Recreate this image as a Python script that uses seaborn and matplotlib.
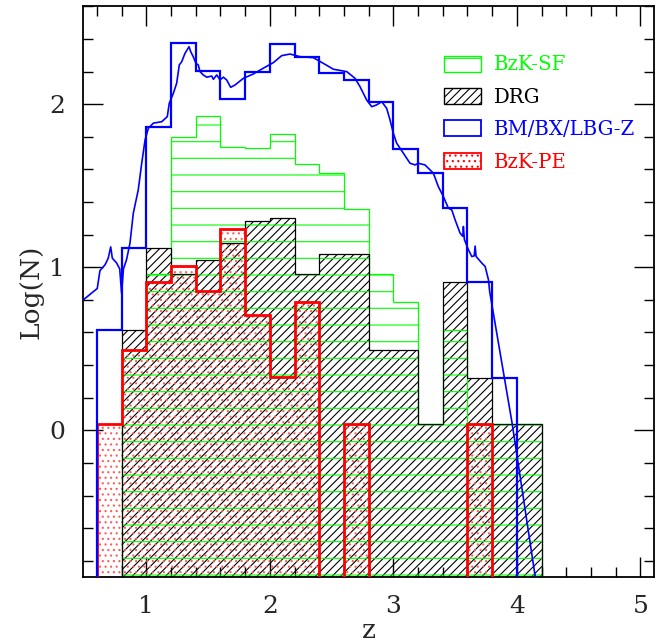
import numpy as np
import matplotlib
matplotlib.use('Agg')
import matplotlib.pyplot as plt
from matplotlib.patches import Patch
from matplotlib.ticker import MultipleLocator
import seaborn as sns
import pandas as pd

# ---------------- data ----------------
bin_edges = [0.6, 0.8, 1.0, 1.2, 1.4, 1.6, 1.8, 2.0, 2.2, 2.4,
             2.6, 2.8, 3.0, 3.2, 3.4, 3.6, 3.8, 4.0, 4.2]
nan = np.nan
bm_bx_lbg = [0.613, 1.118, 1.861, 2.374, 2.204, 2.031, 2.200, 2.371, 2.288,
             2.190, 2.149, 2.012, 1.724, 1.581, 1.363, 0.909, 0.323, nan]
drg = [nan, 0.613, 1.118, 0.960, 1.046, 1.148, 1.281, 1.301, 0.960,
       1.083, 1.083, 0.494, 0.494, 0.041, 0.909, 0.321, 0.041, 0.041]
bzk_sf = [nan, 0.494, 0.960, 1.801, 1.926, 1.740, 1.732, 1.816, 1.634,
          1.579, 1.360, 0.960, 0.784, 0.041, 0.617, 0.041, 0.041, 0.041]
bzk_pe = [0.041, 0.494, 0.909, 1.005, 0.856, 1.234, 0.709, 0.325, 0.784,
          nan, 0.041, nan, nan, nan, nan, 0.041, nan, nan]

curve_z = [0.49, 0.603, 0.625, 0.666, 0.692, 0.712, 0.725, 0.76, 0.785, 0.80,
           0.815, 0.84, 0.868, 0.895, 0.935, 0.963, 0.99, 1.017, 1.057, 1.125,
           1.17, 1.186, 1.219, 1.246, 1.267, 1.287, 1.313, 1.346, 1.36, 1.38,
           1.402, 1.421, 1.435, 1.461, 1.489, 1.53, 1.543, 1.57, 1.597, 1.624,
           1.651, 1.683, 1.718, 1.786, 1.867, 1.947, 2.028, 2.096, 2.163, 2.244,
           2.352, 2.433, 2.514, 2.623, 2.69, 2.73, 2.784, 2.825, 2.865, 2.906,
           2.946, 2.973, 3.0, 3.027, 3.081, 3.135, 3.176, 3.202, 3.256, 3.324,
           3.364, 3.405, 3.445, 3.473, 3.5, 3.54, 3.562, 3.567, 3.575, 3.608,
           3.635, 3.655, 3.662, 3.67, 3.716, 3.743, 3.77, 3.78, 3.96, 4.148]
curve_logn = [0.80, 0.87, 0.98, 1.015, 1.056, 1.125, 1.056, 1.026, 0.99, 0.84,
              0.99, 1.046, 1.148, 1.332, 1.475, 1.638, 1.781, 1.853, 1.884, 1.893,
              1.924, 2.006, 2.067, 2.129, 2.241, 2.261, 2.312, 2.353, 2.322, 2.292,
              2.251, 2.241, 2.20, 2.18, 2.166, 2.173, 2.153, 2.18, 2.149, 2.166,
              2.149, 2.104, 2.118, 2.159, 2.186, 2.221, 2.255, 2.298, 2.308, 2.292,
              2.286, 2.251, 2.215, 2.20, 2.159, 2.108, 2.026, 1.985, 1.996, 2.016,
              1.975, 1.904, 1.822, 1.761, 1.70, 1.638, 1.628, 1.638, 1.628, 1.577,
              1.495, 1.434, 1.363, 1.352, 1.291, 1.21, 1.19, 1.25, 1.17, 1.107,
              1.066, 1.07, 1.13, 1.066, 1.026, 1.005, 0.923, 0.85, 0.05, -0.895]

labels = ['BzK-SF', 'DRG', 'BM/BX/LBG-Z', 'BzK-PE']
GREEN, BLACK, BLUE, RED = '#00ff00', 'black', '#0000ff', '#ff0000'
DOTS = '#ff5a5a'

# ---------------- style ----------------
sns.set_style('ticks')
plt.rcParams['font.family'] = ['DejaVu Serif']
plt.rcParams['hatch.linewidth'] = 0.8

fig = plt.figure(figsize=(6.61, 6.44), dpi=100)
ax = fig.add_axes([0.126, 0.104, 0.8634, 0.886])

BASE = -2.0
edges = np.array(bin_edges)

# hatched fills
ax.stairs(np.array(drg), edges, baseline=BASE, fill=True, facecolor='none',
          edgecolor=BLACK, linewidth=0, hatch='////', zorder=1)
ax.stairs(np.array(bzk_pe), edges, baseline=BASE, fill=True, facecolor='none',
          edgecolor=DOTS, linewidth=0, hatch='...', zorder=2)
ax.stairs(np.array(bzk_sf), edges, baseline=BASE, fill=True, facecolor='none',
          edgecolor=GREEN, linewidth=0, hatch='-', zorder=3)

# outlines
ax.stairs(np.array(bzk_sf), edges, baseline=BASE, fill=False, color=GREEN,
          linewidth=0.9, zorder=4)
ax.stairs(np.array(drg), edges, baseline=BASE, fill=False, color=BLACK,
          linewidth=0.9, zorder=5)
ax.stairs(np.array(bzk_pe), edges, baseline=BASE, fill=False, color=RED,
          linewidth=2.0, zorder=6)
ax.stairs(np.array(bm_bx_lbg), edges, baseline=BASE, fill=False, color=BLUE,
          linewidth=1.6, zorder=7)

df_curve = pd.DataFrame({'z': curve_z, 'logN': curve_logn})
sns.lineplot(data=df_curve, x='z', y='logN', ax=ax, color=BLUE, linewidth=1.2,
             sort=False, estimator=None, zorder=8)

ax.set_xlim(0.49, 5.11)
ax.set_ylim(-0.9, 2.6)
ax.xaxis.set_major_locator(MultipleLocator(1))
ax.xaxis.set_minor_locator(MultipleLocator(0.2))
ax.yaxis.set_major_locator(MultipleLocator(1))
ax.yaxis.set_minor_locator(MultipleLocator(0.2))
ax.tick_params(which='both', direction='in', top=True, right=True,
               labelsize=18, pad=13, width=1.0, color='black')
ax.tick_params(which='major', length=14.4)
ax.tick_params(which='minor', length=7.2)
for s in ax.spines.values():
    s.set_linewidth(1.3)
    s.set_color('black')

ax.set_xlabel('z', fontsize=19, labelpad=0)
ax.set_ylabel('Log(N)', fontsize=19, labelpad=4)

handles = [
    Patch(facecolor='none', edgecolor=GREEN, hatch='-', linewidth=1.0),
    Patch(facecolor='none', edgecolor=BLACK, hatch='////', linewidth=1.0),
    Patch(facecolor='none', edgecolor=BLUE, linewidth=1.3),
    Patch(facecolor='none', edgecolor=RED, hatch='...', linewidth=1.3),
]
leg = ax.legend(handles, labels, loc='upper left', bbox_to_anchor=(0.618, 0.928),
                borderaxespad=0, frameon=False, fontsize=14.2,
                handlelength=1.88, handleheight=0.86, handletextpad=0.64,
                labelspacing=0.68)
for txt, col in zip(leg.get_texts(), [GREEN, BLACK, BLUE, RED]):
    txt.set_color(col)

fig.savefig('out.png', dpi=100)
